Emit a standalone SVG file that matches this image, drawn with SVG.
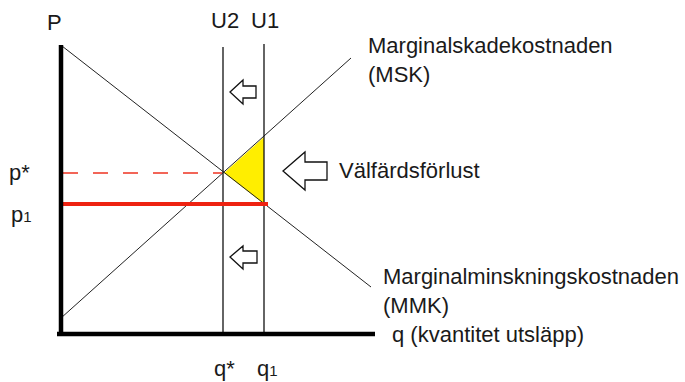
<svg xmlns="http://www.w3.org/2000/svg" width="685" height="382" viewBox="0 0 685 382">
<style>
text{font-family:"Liberation Sans",Arial,sans-serif;font-size:22px;fill:#1a1a1a}
.thin{stroke:#222;stroke-width:1;fill:none}
.vert{stroke:#111;stroke-width:1.3;fill:none}
.axis{stroke:#000;stroke-width:4.5;fill:none}
.arrow{fill:#fff;stroke:#111;stroke-width:1.3}
</style>
<rect width="685" height="382" fill="#fff"/>
<g id="welfare-loss">
<polygon points="224,173 264,137 264,204" fill="#ffee00"/>
</g>
<g id="connectors">
<line class="thin" x1="62" y1="46" x2="371" y2="287"/>
<line class="thin" x1="61" y1="318" x2="351" y2="58"/>
<line class="vert" x1="223" y1="47" x2="223" y2="333"/>
<line class="vert" x1="264" y1="44" x2="264" y2="333"/>
<line x1="63" y1="173" x2="222" y2="173" stroke="#ee3322" stroke-width="1.3" stroke-dasharray="15,15"/>
<line x1="223" y1="333" x2="223" y2="336" stroke="#ee3322" stroke-width="1.3"/>
<line x1="61" y1="204" x2="268" y2="204" stroke="#ee2211" stroke-width="4"/>
<line class="axis" x1="61" y1="45" x2="61" y2="335"/>
<line class="axis" x1="57" y1="334" x2="375" y2="334"/>
</g>
<g id="arrow-top">
<polygon class="arrow" points="230,92 243,80 243,86 256,86 256,98 243,98 243,104"/>
</g>
<g id="arrow-bottom">
<polygon class="arrow" points="230,257 243,246 243,251 257,251 257,263 243,263 243,269"/>
</g>
<g id="arrow-big">
<polygon class="arrow" points="283,171 305,152 305,162 327,162 327,180 305,180 305,190"/>
</g>
<g id="labels">
<text x="47" y="30">P</text>
<text x="211" y="28">U2</text>
<text x="251" y="28">U1</text>
<text x="368" y="53">Marginalskadekostnaden</text>
<text x="368" y="82">(MSK)</text>
<text x="339" y="178">Välfärdsförlust</text>
<text x="9" y="180">p*</text>
<text x="11" y="222">p<tspan font-size="15">1</tspan></text>
<text x="383" y="284">Marginalminskningskostnaden</text>
<text x="383" y="313">(MMK)</text>
<text x="392" y="342">q (kvantitet utsläpp)</text>
<text x="214" y="376">q*</text>
<text x="257" y="376">q<tspan font-size="15">1</tspan></text>
</g>
</svg>
